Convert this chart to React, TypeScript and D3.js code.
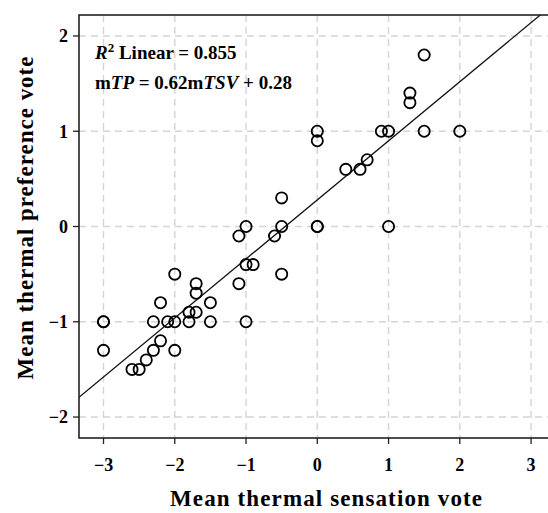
import React from 'react';
import * as d3 from 'd3';

// mean thermal sensation vote (x) / mean thermal preference vote (y)
const tsv = [
  1.5, 1.3, 1.3, 0, 0, 0.9, 1.0, 1.5, 2.0, 0.7, 0.6, 0.4,
  -0.5, -1.0, -1.1, -0.5, -0.6, -1.0, -0.9, -0.5, -1.1, -2.0,
  -1.7, -1.7, -2.2, -1.5, -1.8, -1.7, -3.0, -3.0, -2.3, -2.1,
  -2.0, -1.8, -1.5, -1.0, -2.2, -3.0, -2.0, -2.3, -2.4, -2.6,
  -2.5, 0, 0, 1.0,
];
const tp = [
  1.8, 1.4, 1.3, 1.0, 0.9, 1.0, 1.0, 1.0, 1.0, 0.7, 0.6, 0.6,
  0.3, 0, -0.1, 0, -0.1, -0.4, -0.4, -0.5, -0.6, -0.5,
  -0.6, -0.7, -0.8, -0.8, -0.9, -0.9, -1.0, -1.0, -1.0, -1.0,
  -1.0, -1.0, -1.0, -1.0, -1.2, -1.3, -1.3, -1.3, -1.4, -1.5,
  -1.5, 0, 0, 0,
];

const fitSlope = 0.62;
const fitIntercept = 0.28;

const xTicks = [-3, -2, -1, 0, 1, 2, 3];
const yTicks = [-2, -1, 0, 1, 2];

const W = 548;
const H = 513;
const left = 79, right = 556, top = 15, bottom = 438;

const font = '"Liberation Serif", "Times New Roman", serif';

export default function App() {
  const x = d3.scaleLinear().domain([-3.344, 3.35]).range([left, right]);
  const y = d3.scaleLinear().domain([-2.22, 2.22]).range([bottom, top]);

  const pts = tsv.map((v, i) => ({ x: v, y: tp[i] }));

  const [x0, x1] = x.domain();
  const line = d3.line<number>()
    .x(d => x(d))
    .y(d => y(fitSlope * d + fitIntercept));

  const fmt = (t: number) => (t < 0 ? '\u2212' + Math.abs(t) : String(t));

  return (
    <svg width={W} height={H} style={{ position: 'absolute', left: 0, top: 0, background: '#fff' }}
      fontFamily={font} fontWeight="bold">
      <defs>
        <clipPath id="plot">
          <rect x={left} y={top} width={right - left} height={bottom - top} />
        </clipPath>
      </defs>

      {/* grid */}
      <g stroke="#d4d4d4" strokeWidth={1.4} strokeDasharray="7,5">
        {xTicks.map(t => (
          <line key={'gx' + t} x1={x(t)} x2={x(t)} y1={top} y2={bottom} />
        ))}
        {yTicks.map(t => (
          <line key={'gy' + t} x1={left} x2={right} y1={y(t)} y2={y(t)} />
        ))}
      </g>

      {/* fit line */}
      <path d={line([x0, x1]) || ''} fill="none" stroke="#111" strokeWidth={1.3} clipPath="url(#plot)" />

      {/* points */}
      <g fill="none" stroke="#000" strokeWidth={1.8}>
        {pts.map((p, i) => (
          <circle key={i} cx={x(p.x)} cy={y(p.y)} r={5.6} />
        ))}
      </g>

      {/* frame */}
      <rect x={left} y={top} width={right - left} height={bottom - top} fill="none" stroke="#222" strokeWidth={1.6} />

      {/* x axis ticks */}
      <g>
        {xTicks.map(t => (
          <g key={'xt' + t}>
            <line x1={x(t)} x2={x(t)} y1={bottom} y2={bottom + 6} stroke="#222" strokeWidth={1.3} />
            <text x={x(t)} y={471} textAnchor="middle" fontSize={18}>{fmt(t)}</text>
          </g>
        ))}
      </g>

      {/* y axis ticks */}
      <g>
        {yTicks.map(t => (
          <g key={'yt' + t}>
            <line x1={left - 6} x2={left} y1={y(t)} y2={y(t)} stroke="#222" strokeWidth={1.3} />
            <text x={68} y={y(t)} dy="0.35em" textAnchor="end" fontSize={18}>{fmt(t)}</text>
          </g>
        ))}
      </g>

      {/* annotation */}
      <text x={95} y={59} fontSize={19}>
        <tspan fontStyle="italic">R</tspan>
        <tspan fontSize={13} dy={-7}>2</tspan>
        <tspan dy={7}> Linear = 0.855</tspan>
      </text>
      <text x={95} y={89} fontSize={19}>
        m<tspan fontStyle="italic">TP</tspan> = 0.62m<tspan fontStyle="italic">TSV</tspan> + 0.28
      </text>

      {/* axis titles */}
      <text x={326} y={506} textAnchor="middle" fontSize={23} textLength={312} lengthAdjust="spacing">
        Mean thermal sensation vote
      </text>
      <text transform={`translate(33,${218}) rotate(-90)`} textAnchor="middle" fontSize={23}
        textLength={323} lengthAdjust="spacing">
        Mean thermal preference vote
      </text>
    </svg>
  );
}
